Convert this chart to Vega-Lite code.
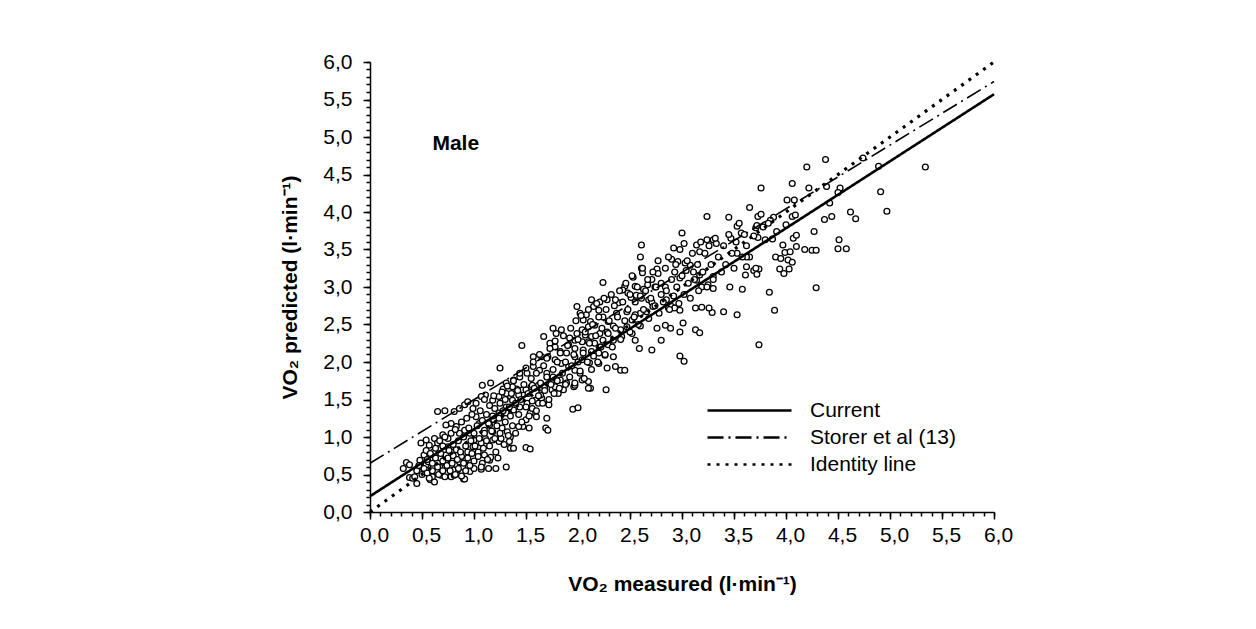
{
"$schema":"https://vega.github.io/schema/vega-lite/v6.json",
"width":624,"height":450,
"autosize":{"type":"none"},
"padding":{"left":370,"top":62,"right":262,"bottom":117},
"background":"white",
"config":{"view":{"stroke":null},"font":"Liberation Sans",
"axis":{"grid":false,"domainColor":"black","tickColor":"black","labelColor":"black","titleColor":"black","labelFont":"Liberation Sans","titleFont":"Liberation Sans","labelFontSize":21,"titleFontSize":21,"titleFontWeight":"bold","domainWidth":1.5,"tickWidth":1.5,"labelOverlap":false,"labelFlush":false}},
"layer":[
{"data":{"values":[
{"x":5.34,"y":4.60},{"x":4.97,"y":4.01},{"x":4.91,"y":4.27},{"x":4.89,"y":4.61},{"x":4.74,"y":4.72},{"x":4.38,"y":4.70},{"x":4.20,"y":4.60},{"x":4.06,"y":4.38},{"x":4.22,"y":4.32},{"x":4.39,"y":4.34},{"x":4.52,"y":4.32},{"x":4.50,"y":4.26},{"x":4.42,"y":4.12},{"x":4.01,"y":4.16},{"x":4.08,"y":4.16},{"x":3.76,"y":4.32},{"x":3.73,"y":3.94},{"x":3.76,"y":3.97},{"x":3.78,"y":3.80},{"x":3.71,"y":3.79},{"x":3.88,"y":3.93},{"x":3.85,"y":3.89},{"x":4.06,"y":3.94},{"x":4.09,"y":3.96},{"x":4.00,"y":3.83},{"x":3.91,"y":3.74},{"x":3.73,"y":3.66},{"x":3.80,"y":3.63},{"x":3.87,"y":3.64},{"x":4.07,"y":3.65},{"x":4.10,"y":3.69},{"x":4.27,"y":3.74},{"x":4.37,"y":3.90},{"x":4.44,"y":3.94},{"x":4.62,"y":4.00},{"x":4.67,"y":3.91},{"x":4.51,"y":3.63},{"x":4.50,"y":3.51},{"x":4.58,"y":3.51},{"x":4.10,"y":3.54},{"x":4.18,"y":3.50},{"x":4.25,"y":3.49},{"x":4.29,"y":3.49},{"x":3.97,"y":3.56},{"x":3.90,"y":3.40},{"x":3.95,"y":3.38},{"x":3.99,"y":3.46},{"x":4.04,"y":3.47},{"x":4.02,"y":3.36},{"x":4.06,"y":3.33},{"x":3.94,"y":3.24},{"x":3.98,"y":3.18},{"x":4.03,"y":3.24},{"x":3.69,"y":3.22},{"x":3.72,"y":3.17},{"x":3.74,"y":3.24},{"x":3.84,"y":2.93},{"x":4.29,"y":2.99},{"x":3.89,"y":2.69},{"x":3.74,"y":2.23},{"x":3.65,"y":4.06},{"x":3.65,"y":3.40},{"x":3.72,"y":3.82},
{"x":3.24,"y":3.94},{"x":3.45,"y":3.93},{"x":3.53,"y":3.81},{"x":3.00,"y":3.72},{"x":2.61,"y":3.56},{"x":3.02,"y":3.58},{"x":2.92,"y":3.52},{"x":3.14,"y":3.56},{"x":3.17,"y":3.47},{"x":3.24,"y":3.63},{"x":3.30,"y":3.63},{"x":3.33,"y":3.58},{"x":3.47,"y":3.65},{"x":3.57,"y":3.72},{"x":3.69,"y":3.68},{"x":3.83,"y":3.85},{"x":3.62,"y":3.40},{"x":3.62,"y":3.27},{"x":3.61,"y":3.16},{"x":3.71,"y":3.25},{"x":3.53,"y":3.45},{"x":3.46,"y":3.00},{"x":3.58,"y":2.97},{"x":3.53,"y":2.63},{"x":3.40,"y":2.67},{"x":3.29,"y":2.66},{"x":3.26,"y":2.72},{"x":3.19,"y":2.73},{"x":3.13,"y":2.72},{"x":3.01,"y":2.52},{"x":2.98,"y":2.40},{"x":3.13,"y":2.43},{"x":3.17,"y":2.39},{"x":3.30,"y":2.98},{"x":3.25,"y":3.03},{"x":3.19,"y":3.00},{"x":3.30,"y":3.14},{"x":3.14,"y":3.09},{"x":3.17,"y":3.16},{"x":3.11,"y":3.20},{"x":3.04,"y":3.22},{"x":3.08,"y":3.29},{"x":3.03,"y":3.32},{"x":2.96,"y":3.34},{"x":2.90,"y":3.37},{"x":2.93,"y":3.20},{"x":2.98,"y":3.12},{"x":2.84,"y":3.00},{"x":2.80,"y":2.90},{"x":2.85,"y":2.83},{"x":2.87,"y":2.72},{"x":2.90,"y":2.74},{"x":2.93,"y":2.72},{"x":2.98,"y":2.69},{"x":2.80,"y":2.29},{"x":2.71,"y":2.16},{"x":2.98,"y":2.08},{"x":3.02,"y":2.01},{"x":2.84,"y":2.49},{"x":2.89,"y":2.45},{"x":2.76,"y":2.45},{"x":2.60,"y":3.40},{"x":2.61,"y":3.25},{"x":2.62,"y":3.19},{"x":2.76,"y":3.24},{"x":2.77,"y":3.18},{"x":2.53,"y":3.13},{"x":2.71,"y":3.10},{"x":2.74,"y":3.00},{"x":2.67,"y":3.03},{"x":2.63,"y":2.97},{"x":2.55,"y":3.01},{"x":2.45,"y":3.01},{"x":2.43,"y":2.96},{"x":2.48,"y":2.92},{"x":2.51,"y":2.86},{"x":2.56,"y":2.89},{"x":2.61,"y":2.85},{"x":2.68,"y":2.83},{"x":2.71,"y":2.80},{"x":2.72,"y":2.74},{"x":2.66,"y":2.67},{"x":2.60,"y":2.65},{"x":2.55,"y":2.63},{"x":2.47,"y":2.67},{"x":2.37,"y":2.65},{"x":2.39,"y":2.79},{"x":2.36,"y":2.83},{"x":2.24,"y":3.06},{"x":2.28,"y":2.83},{"x":2.21,"y":2.80},{"x":2.13,"y":2.83},{"x":2.15,"y":2.74},{"x":2.20,"y":2.69},{"x":2.24,"y":2.60},{"x":2.29,"y":2.54},{"x":2.34,"y":2.48},{"x":2.41,"y":2.43},{"x":2.47,"y":2.47},{"x":2.52,"y":2.56},{"x":2.60,"y":2.48},{"x":2.52,"y":2.38},{"x":2.55,"y":2.29},{"x":2.59,"y":2.18},{"x":2.42,"y":2.34},{"x":2.34,"y":2.29},{"x":1.99,"y":2.74},{"x":2.02,"y":2.65},{"x":2.08,"y":2.63},{"x":2.05,"y":2.56},{"x":2.12,"y":2.54},{"x":2.16,"y":2.49},{"x":2.10,"y":2.47},{"x":2.04,"y":2.43},{"x":1.99,"y":2.38},{"x":2.07,"y":2.36},{"x":2.13,"y":2.34},{"x":2.21,"y":2.38},{"x":2.28,"y":2.40},{"x":2.24,"y":2.29},{"x":2.29,"y":2.23},{"x":2.21,"y":2.20},{"x":2.16,"y":2.25},{"x":2.10,"y":2.27},{"x":2.04,"y":2.27},{"x":1.97,"y":2.29},{"x":1.92,"y":2.32},{"x":1.91,"y":2.23},{"x":1.97,"y":2.18},{"x":2.05,"y":2.16},{"x":2.13,"y":2.14},{"x":2.20,"y":2.12},{"x":2.26,"y":2.09},{"x":2.34,"y":2.07},{"x":2.36,"y":1.94},{"x":2.41,"y":1.89},{"x":2.45,"y":1.89},{"x":2.28,"y":1.92},{"x":2.20,"y":1.98},{"x":2.11,"y":1.99},{"x":2.04,"y":2.03},{"x":1.97,"y":2.07},{"x":1.89,"y":2.12},{"x":1.83,"y":2.14},{"x":1.78,"y":2.20},{"x":1.73,"y":2.25},{"x":1.67,"y":2.34},{"x":1.79,"y":2.38},{"x":1.84,"y":2.43},{"x":1.76,"y":2.45},{"x":1.46,"y":2.22},{"x":1.57,"y":2.07},{"x":1.65,"y":2.07},{"x":1.71,"y":2.07},{"x":1.78,"y":2.03},{"x":1.84,"y":1.98},{"x":1.91,"y":1.94},{"x":1.97,"y":1.89},{"x":2.02,"y":1.85},{"x":2.10,"y":1.74},{"x":2.12,"y":1.65},{"x":2.27,"y":1.63},{"x":1.57,"y":1.94},{"x":1.63,"y":1.89},{"x":1.70,"y":1.85},{"x":1.76,"y":1.80},{"x":1.83,"y":1.76},{"x":1.89,"y":1.72},{"x":1.96,"y":1.67},{"x":2.04,"y":1.76},{"x":1.51,"y":1.85},{"x":1.44,"y":1.80},{"x":1.38,"y":1.76},{"x":1.31,"y":1.72},{"x":1.25,"y":1.92},{"x":1.28,"y":1.64},{"x":1.35,"y":1.54},{"x":1.41,"y":1.64},{"x":1.47,"y":1.63},{"x":1.55,"y":1.67},{"x":1.62,"y":1.69},{"x":1.68,"y":1.67},{"x":1.75,"y":1.63},{"x":1.81,"y":1.58},{"x":1.86,"y":1.63},{"x":1.65,"y":1.52},{"x":1.59,"y":1.49},{"x":1.51,"y":1.45},{"x":1.44,"y":1.40},{"x":1.38,"y":1.36},{"x":1.31,"y":1.32},{"x":1.25,"y":1.27},{"x":1.54,"y":1.32},{"x":1.60,"y":1.27},{"x":1.70,"y":1.25},{"x":1.47,"y":1.14},{"x":1.35,"y":1.00},
{"x":0.35,"y":0.66},{"x":0.32,"y":0.58},{"x":0.38,"y":0.63},{"x":0.38,"y":0.46},{"x":0.41,"y":0.45},{"x":0.45,"y":0.38},{"x":0.43,"y":0.47},{"x":0.58,"y":0.43},{"x":0.60,"y":0.47},{"x":0.49,"y":0.60},{"x":0.54,"y":0.63},{"x":0.48,"y":0.69},{"x":0.52,"y":0.76},{"x":0.56,"y":0.67},{"x":0.61,"y":0.60},{"x":0.64,"y":0.54},{"x":0.68,"y":0.49},{"x":0.73,"y":0.52},{"x":0.78,"y":0.47},{"x":0.81,"y":0.49},{"x":0.84,"y":0.56},{"x":0.90,"y":0.44},{"x":0.96,"y":0.54},{"x":1.00,"y":0.58},{"x":1.07,"y":0.57},{"x":1.14,"y":0.58},{"x":1.31,"y":0.60},{"x":0.49,"y":0.92},{"x":0.54,"y":0.96},{"x":0.57,"y":0.89},{"x":0.62,"y":0.98},{"x":0.65,"y":0.92},{"x":0.70,"y":1.03},{"x":0.75,"y":0.98},{"x":0.78,"y":0.87},{"x":0.83,"y":0.83},{"x":0.88,"y":0.74},{"x":0.92,"y":0.69},{"x":0.73,"y":0.76},{"x":0.67,"y":0.72},{"x":0.80,"y":0.69},{"x":0.73,"y":0.65},{"x":0.83,"y":0.63},{"x":0.86,"y":0.67},{"x":0.89,"y":0.60},{"x":0.94,"y":0.80},{"x":0.99,"y":0.87},{"x":1.04,"y":0.80},{"x":1.10,"y":0.76},{"x":1.15,"y":0.69},{"x":1.08,"y":0.65},{"x":1.16,"y":0.73},{"x":1.21,"y":0.80},{"x":1.24,"y":0.94},{"x":1.18,"y":0.96},{"x":1.11,"y":0.98},{"x":1.07,"y":0.92},{"x":1.00,"y":0.96},{"x":0.96,"y":1.05},{"x":0.91,"y":1.09},{"x":0.86,"y":1.05},{"x":0.83,"y":1.14},{"x":0.78,"y":1.18},{"x":0.73,"y":1.16},{"x":0.65,"y":1.34},{"x":0.72,"y":1.35},{"x":0.81,"y":1.34},{"x":0.86,"y":1.38},{"x":0.91,"y":1.43},{"x":0.94,"y":1.47},{"x":0.99,"y":1.38},{"x":1.02,"y":1.27},{"x":1.05,"y":1.18},{"x":1.10,"y":1.09},{"x":1.15,"y":1.16},{"x":1.19,"y":1.23},{"x":1.24,"y":1.32},{"x":1.31,"y":1.40},{"x":1.37,"y":1.49},{"x":1.43,"y":1.56},{"x":1.50,"y":1.63},{"x":1.56,"y":1.69},{"x":1.08,"y":1.69},{"x":1.16,"y":1.72},{"x":1.11,"y":1.56},{"x":1.07,"y":1.54},{"x":1.18,"y":1.49},{"x":1.24,"y":1.54},{"x":1.31,"y":1.58},{"x":1.37,"y":1.67},{"x":1.27,"y":1.12},{"x":1.32,"y":1.07},{"x":1.26,"y":0.98},{"x":1.34,"y":0.94},{"x":1.35,"y":0.85},{"x":1.38,"y":0.85},{"x":1.50,"y":0.86},{"x":1.54,"y":0.84},{"x":1.18,"y":1.07},{"x":1.43,"y":1.14},{"x":1.50,"y":1.23},{"x":1.53,"y":1.12},{"x":1.56,"y":1.38},{"x":1.62,"y":1.45},{"x":1.69,"y":1.12},{"x":1.71,"y":1.09},{"x":1.72,"y":1.43},{"x":1.64,"y":1.56},{"x":1.78,"y":1.67},{"x":1.95,"y":1.37},{"x":2.00,"y":1.39},{"x":1.97,"y":1.69},{"x":2.10,"y":1.65},{"x":1.21,"y":0.58},{"x":0.91,"y":0.44},{"x":0.80,"y":0.56},{"x":0.67,"y":0.60},{"x":0.75,"y":0.87},{"x":0.61,"y":0.80},{"x":0.54,"y":0.82},
{"x":0.45,"y":0.55},{"x":0.47,"y":0.62},{"x":0.50,"y":0.50},{"x":0.52,"y":0.58},{"x":0.55,"y":0.70},{"x":0.55,"y":0.52},{"x":0.57,"y":0.45},{"x":0.58,"y":0.78},{"x":0.60,"y":0.55},{"x":0.60,"y":0.65},{"x":0.62,"y":0.40},{"x":0.63,"y":0.72},{"x":0.63,"y":0.85},{"x":0.65,"y":0.60},{"x":0.66,"y":0.50},{"x":0.67,"y":0.95},{"x":0.68,"y":0.78},{"x":0.70,"y":0.55},{"x":0.70,"y":0.68},{"x":0.70,"y":0.88},{"x":0.72,"y":0.47},{"x":0.72,"y":1.00},{"x":0.74,"y":0.62},{"x":0.75,"y":0.72},{"x":0.76,"y":0.82},{"x":0.77,"y":0.55},{"x":0.78,"y":1.05},{"x":0.79,"y":0.65},{"x":0.80,"y":0.90},{"x":0.80,"y":0.75},{"x":0.82,"y":0.50},{"x":0.82,"y":1.10},{"x":0.84,"y":0.70},{"x":0.85,"y":0.95},{"x":0.85,"y":0.58},{"x":0.87,"y":0.80},{"x":0.88,"y":1.20},{"x":0.88,"y":0.48},{"x":0.90,"y":0.65},{"x":0.90,"y":1.00},{"x":0.92,"y":0.88},{"x":0.92,"y":0.55},{"x":0.93,"y":1.25},{"x":0.94,"y":0.72},{"x":0.95,"y":1.12},{"x":0.96,"y":0.62},{"x":0.97,"y":0.95},{"x":0.98,"y":0.78},{"x":0.98,"y":1.30},{"x":1.00,"y":0.68},{"x":1.00,"y":1.05},{"x":1.01,"y":0.88},{"x":1.02,"y":1.45},{"x":1.03,"y":1.15},{"x":1.04,"y":0.74},{"x":1.05,"y":0.98},{"x":1.06,"y":1.35},{"x":1.07,"y":0.60},{"x":1.08,"y":1.22},{"x":1.09,"y":0.85},{"x":1.10,"y":1.05},{"x":1.10,"y":1.50},{"x":1.12,"y":0.95},{"x":1.12,"y":1.30},{"x":1.13,"y":0.70},{"x":1.14,"y":1.18},{"x":1.15,"y":1.42},{"x":1.15,"y":0.88},{"x":1.17,"y":1.08},{"x":1.18,"y":1.28},{"x":1.19,"y":1.55},{"x":1.20,"y":0.98},{"x":1.20,"y":1.38},{"x":1.22,"y":1.15},{"x":1.23,"y":0.72},{"x":1.24,"y":1.25},{"x":1.25,"y":1.45},{"x":1.25,"y":1.05},{"x":1.27,"y":1.60},{"x":1.28,"y":1.35},{"x":1.29,"y":0.90},{"x":1.30,"y":1.20},{"x":1.30,"y":1.50},{"x":1.32,"y":1.68},{"x":1.33,"y":1.02},{"x":1.34,"y":1.40},{"x":1.35,"y":1.28},{"x":1.36,"y":1.58},{"x":1.37,"y":1.15},{"x":1.38,"y":1.75},{"x":1.40,"y":1.45},{"x":1.40,"y":1.05},{"x":1.42,"y":1.62},{"x":1.43,"y":1.30},{"x":1.44,"y":1.85},{"x":1.45,"y":1.50},{"x":1.46,"y":1.20},{"x":1.48,"y":1.70},{"x":1.50,"y":1.40},{"x":1.50,"y":1.92},{"x":1.52,"y":1.58},{"x":1.53,"y":1.28},{"x":1.55,"y":1.78},{"x":1.56,"y":1.48},{"x":1.57,"y":2.00},{"x":1.58,"y":1.65},{"x":1.60,"y":1.35},{"x":1.60,"y":1.85},{"x":1.62,"y":1.55},{"x":1.63,"y":2.10},{"x":1.64,"y":1.72},{"x":1.66,"y":1.45},{"x":1.67,"y":1.95},{"x":1.68,"y":1.62},{"x":1.70,"y":2.05},{"x":1.70,"y":1.80},{"x":1.72,"y":1.50},{"x":1.73,"y":2.18},{"x":1.74,"y":1.70},{"x":1.76,"y":1.90},{"x":1.77,"y":1.58},{"x":1.78,"y":2.28},{"x":1.80,"y":1.75},{"x":1.80,"y":2.00},{"x":1.82,"y":1.65},{"x":1.83,"y":2.12},{"x":1.85,"y":1.85},{"x":1.86,"y":2.35},{"x":1.88,"y":1.70},{"x":1.88,"y":2.00},{"x":1.90,"y":2.22},{"x":1.92,"y":1.80},{"x":1.93,"y":2.45},{"x":1.94,"y":1.95},{"x":1.96,"y":2.10},{"x":1.97,"y":1.72},{"x":1.98,"y":2.55},{"x":2.00,"y":2.00},{"x":2.00,"y":2.30},{"x":2.02,"y":1.88},{"x":2.03,"y":2.62},{"x":2.05,"y":2.12},{"x":2.06,"y":1.78},{"x":2.07,"y":2.40},{"x":2.09,"y":2.00},{"x":2.10,"y":2.70},{"x":2.11,"y":2.25},{"x":2.13,"y":1.90},{"x":2.14,"y":2.50},{"x":2.15,"y":2.08},{"x":2.17,"y":2.35},{"x":2.18,"y":2.78},{"x":2.19,"y":2.00},{"x":2.20,"y":2.60},{"x":2.22,"y":2.20},{"x":2.23,"y":2.45},{"x":2.25,"y":2.85},{"x":2.26,"y":2.10},{"x":2.27,"y":2.70},{"x":2.29,"y":2.38},{"x":2.30,"y":2.55},{"x":2.32,"y":2.90},{"x":2.33,"y":2.20},{"x":2.35,"y":2.75},{"x":2.36,"y":2.45},{"x":2.38,"y":2.60},{"x":2.40,"y":2.95},{"x":2.41,"y":2.30},{"x":2.43,"y":2.80},{"x":2.45,"y":2.55},{"x":2.46,"y":3.05},{"x":2.48,"y":2.70},{"x":2.50,"y":2.40},{"x":2.50,"y":2.90},{"x":2.52,"y":3.15},{"x":2.54,"y":2.60},{"x":2.55,"y":2.80},{"x":2.57,"y":3.00},{"x":2.58,"y":2.50},{"x":2.60,"y":2.88},{"x":2.62,"y":3.25},{"x":2.63,"y":2.70},{"x":2.65,"y":2.95},{"x":2.67,"y":3.10},{"x":2.68,"y":2.58},{"x":2.70,"y":2.85},{"x":2.72,"y":3.20},{"x":2.74,"y":2.75},{"x":2.75,"y":3.00},{"x":2.77,"y":3.35},{"x":2.78,"y":2.65},{"x":2.80,"y":3.05},{"x":2.82,"y":2.80},{"x":2.84,"y":3.25},{"x":2.85,"y":2.95},{"x":2.87,"y":3.40},{"x":2.88,"y":2.70},{"x":2.90,"y":3.10},{"x":2.92,"y":2.88},{"x":2.94,"y":3.30},{"x":2.95,"y":3.00},{"x":2.97,"y":2.78},{"x":2.98,"y":3.50},{"x":3.00,"y":3.15},{"x":3.02,"y":2.90},{"x":3.05,"y":3.35},{"x":3.06,"y":3.05},{"x":3.08,"y":2.85},{"x":3.10,"y":3.45},{"x":3.12,"y":3.10},{"x":3.15,"y":3.30},{"x":3.16,"y":2.95},{"x":3.18,"y":3.60},{"x":3.20,"y":3.20},{"x":3.22,"y":3.45},{"x":3.24,"y":3.00},{"x":3.26,"y":3.55},{"x":3.28,"y":3.30},{"x":3.30,"y":3.10},{"x":3.32,"y":3.65},{"x":3.35,"y":3.40},{"x":3.38,"y":3.20},{"x":3.40,"y":3.55},{"x":3.42,"y":3.30},{"x":3.45,"y":3.70},{"x":3.48,"y":3.45},{"x":3.50,"y":3.25},{"x":3.52,"y":3.60},{"x":3.55,"y":3.85},{"x":3.58,"y":3.40},{"x":3.60,"y":3.70},{"x":3.62,"y":3.55}
]},
"mark":{"type":"point","shape":"circle","fill":"white","stroke":"black","strokeWidth":1.3,"size":34,"opacity":1},
"encoding":{
"x":{"field":"x","type":"quantitative","scale":{"domain":[0,6],"nice":false,"zero":false},
"axis":{"orient":"bottom","values":[0,0.5,1,1.5,2,2.5,3,3.5,4,4.5,5,5.5,6],"labelExpr":"replace(format(datum.value,'.1f'),'.',',')","tickSize":7,"labelPadding":5,"labelOffset":4,"title":"VO₂ measured (l·min⁻¹)","titleY":78,"titleBaseline":"alphabetic"}},
"y":{"field":"y","type":"quantitative","scale":{"domain":[0,6],"nice":false,"zero":false},
"axis":{"orient":"left","values":[0,0.5,1,1.5,2,2.5,3,3.5,4,4.5,5,5.5,6],"labelExpr":"replace(format(datum.value,'.1f'),'.',',')","tickSize":7,"labelPadding":11,"title":"VO₂ predicted (l·min⁻¹)","titleX":-74,"titleY":225,"titleBaseline":"alphabetic"}}
}},
{"data":{"values":[
{"series":"Current","x":0,"y":0.21},{"series":"Current","x":6,"y":5.57},
{"series":"Storer et al (13)","x":0,"y":0.65},{"series":"Storer et al (13)","x":6,"y":5.74},
{"series":"Identity line","x":0,"y":0},{"series":"Identity line","x":6,"y":6}
]},
"mark":{"type":"line","color":"black"},
"encoding":{
"x":{"field":"x","type":"quantitative","axis":{"orient":"bottom","values":[0,0.1,0.2,0.3,0.4,0.5,0.6,0.7,0.8,0.9,1,1.1,1.2,1.3,1.4,1.5,1.6,1.7,1.8,1.9,2,2.1,2.2,2.3,2.4,2.5,2.6,2.7,2.8,2.9,3,3.1,3.2,3.3,3.4,3.5,3.6,3.7,3.8,3.9,4,4.1,4.2,4.3,4.4,4.5,4.6,4.7,4.8,4.9,5,5.1,5.2,5.3,5.4,5.5,5.6,5.7,5.8,5.9,6],"labels":false,"domain":false,"tickSize":4,"title":null}},
"y":{"field":"y","type":"quantitative","axis":{"orient":"left","values":[0,0.1,0.2,0.3,0.4,0.5,0.6,0.7,0.8,0.9,1,1.1,1.2,1.3,1.4,1.5,1.6,1.7,1.8,1.9,2,2.1,2.2,2.3,2.4,2.5,2.6,2.7,2.8,2.9,3,3.1,3.2,3.3,3.4,3.5,3.6,3.7,3.8,3.9,4,4.1,4.2,4.3,4.4,4.5,4.6,4.7,4.8,4.9,5,5.1,5.2,5.3,5.4,5.5,5.6,5.7,5.8,5.9,6],"labels":false,"domain":false,"tickSize":4,"title":null}},
"strokeDash":{"field":"series","type":"nominal","scale":{"domain":["Current","Storer et al (13)","Identity line"],"range":[[1,0],[16,5,2,5],[3,6]]},
"legend":{"orient":"none","legendX":336,"legendY":338,"title":null,"symbolType":"stroke","symbolSize":7056,"symbolStrokeColor":"black","symbolStrokeWidth":2.6,"labelFontSize":21,"labelFont":"Liberation Sans","labelColor":"black","labelOffset":17,"clipHeight":21,"rowPadding":5,"padding":0}},
"strokeWidth":{"condition":[{"test":"datum.series==='Identity line'","value":3.2},{"test":"datum.series==='Storer et al (13)'","value":1.6}],"value":2.6}
}},
{"data":{"values":[{"label":"Male"}]},
"mark":{"type":"text","font":"Liberation Sans","fontSize":21,"fontWeight":"bold","align":"left","baseline":"alphabetic","color":"black"},
"encoding":{"x":{"datum":0.6,"type":"quantitative","axis":null},"y":{"datum":4.83,"type":"quantitative","axis":null},"text":{"field":"label"}}}
],
"resolve":{"axis":{"x":"independent","y":"independent"}}
}
